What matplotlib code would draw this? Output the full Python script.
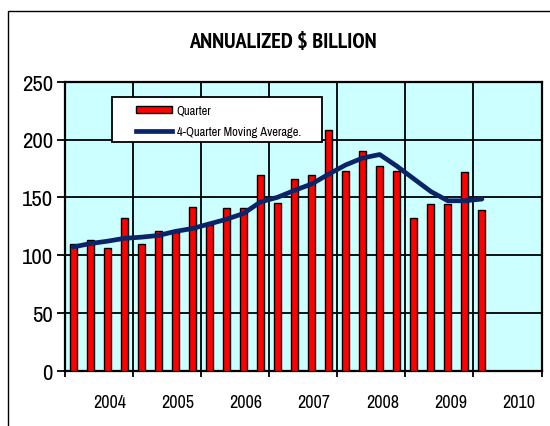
import matplotlib
matplotlib.use("Agg")
import matplotlib.pyplot as plt
from matplotlib.patches import Rectangle
from matplotlib.lines import Line2D

# ---- data ----
years = [2004, 2005, 2006, 2007, 2008, 2009, 2010]
quarter_values = [110, 113, 106, 132,
                  110, 121, 120, 142,
                  126, 141, 141, 169,
                  145, 166, 169, 208,
                  173, 190, 177, 173,
                  132, 144, 144, 172,
                  139]
moving_avg = [107, 110, 112, 114.5,
              115.5, 117, 120.5, 123,
              127, 131, 136, 146,
              150, 156, 161.5, 170,
              178, 184, 187, 177,
              166, 155, 147, 147,
              148.5]
y_ticks = [0, 50, 100, 150, 200, 250]
title = "ANNUALIZED $ BILLION"
legend_labels = ["Quarter", "4-Quarter Moving Average."]

FONT = ["Liberation Sans Narrow", "Arial Narrow", "Archivo Narrow",
        "PT Sans Narrow", "Liberation Sans", "DejaVu Sans"]
TITLE_FONT = ["PT Sans Narrow", "Roboto Condensed", "Archivo Narrow",
              "Liberation Sans", "DejaVu Sans"]
plt.rcParams["font.family"] = FONT

W, H = 550, 427
fig = plt.figure(figsize=(W / 100, H / 100), dpi=100)
fig.patch.set_facecolor("white")

# outer chart border
fig.patches.append(Rectangle((8 / W, -0.05), 1.1, 1 - 12 / H + 0.05,
                             transform=fig.transFigure, fill=False,
                             edgecolor="black", linewidth=1.0, zorder=0))

left, right, top, bottom = 64.7, 541.5, 82.7, 371.7
ax = fig.add_axes([left / W, 1 - bottom / H, (right - left) / W, (bottom - top) / H])
ax.set_facecolor("#CCFFFF")

n = len(quarter_values)
xpos = [i + 0.5 for i in range(n)]
bars = ax.bar(xpos, quarter_values, width=0.42, color="#FF0000",
              edgecolor="black", linewidth=1.0, zorder=3)
line, = ax.plot(xpos, moving_avg, color="#0B2467", linewidth=3.4,
                solid_capstyle="round", solid_joinstyle="round", zorder=4)

nyears = len(years)
ax.set_xlim(0, 4 * nyears)
ax.set_ylim(0, 250)

# major ticks at year boundaries, labels on minor ticks
ax.set_xticks([4 * k for k in range(nyears + 1)])
ax.set_xticklabels([])
ax.set_xticks([4 * k + 2 + 0.65 for k in range(nyears)], minor=True)
ax.set_xticklabels([str(y) for y in years], minor=True)
ax.tick_params(axis="x", which="major", direction="out", length=4, width=1.3,
               color="black")
ax.tick_params(axis="x", which="minor", length=0, pad=17, labelsize=13)

ax.set_yticks(y_ticks)
ax.set_yticklabels([str(v) for v in y_ticks])
ax.tick_params(axis="y", direction="out", length=5.5, width=1.3, pad=3,
               labelsize=16.5)

ax.grid(True, which="major", color="black", linewidth=1.3, zorder=1)
ax.set_axisbelow(True)
for s in ax.spines.values():
    s.set_linewidth(1.6)
    s.set_color("black")

# title
fig.text(283 / W, 1 - 43 / H, title, ha="center", va="center",
         fontsize=16, fontweight="bold", family=TITLE_FONT)

# legend box
lx0, lx1, ly0, ly1 = 111.7, 321.7, 97.7, 143.3
fig.patches.append(Rectangle((lx0 / W, 1 - ly1 / H), (lx1 - lx0) / W, (ly1 - ly0) / H,
                             transform=fig.transFigure, facecolor="white",
                             edgecolor="black", linewidth=1.3, zorder=5))
handle_line = Line2D([], [], color="#0B2467", linewidth=3.4)
leg = fig.legend([bars, handle_line], legend_labels,
                 loc="center left", bbox_to_anchor=(136 / W, 1 - 121.7 / H),
                 frameon=False, fontsize=9, handlelength=2.9, handleheight=0.55,
                 handletextpad=0.35, labelspacing=0.8, borderpad=0,
                 borderaxespad=0)
leg.set_zorder(6)

fig.savefig("out.png", dpi=100)
